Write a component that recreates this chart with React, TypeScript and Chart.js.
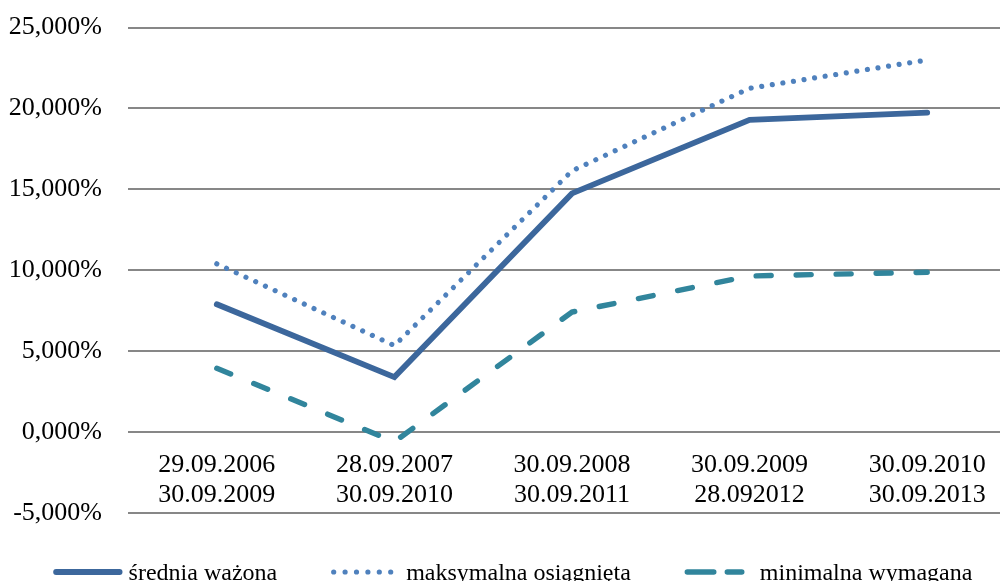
import React, { useEffect, useRef } from "react";
import { Chart, registerables } from "chart.js";

Chart.register(...registerables);

const categories: string[][] = [
  ["29.09.2006", "30.09.2009"],
  ["28.09.2007", "30.09.2010"],
  ["30.09.2008", "30.09.2011"],
  ["30.09.2009", "28.092012"],
  ["30.09.2010", "30.09.2013"],
];

const seriesNames = ["średnia ważona", "maksymalna osiągnięta", "minimalna wymagana"];

const avgValues = [7.9, 3.4, 14.75, 19.3, 19.75];
const maxValues = [10.4, 5.35, 16.15, 21.25, 23.0];
const minValues = [3.95, -0.6, 7.42, 9.65, 9.88];

const yMin = -5;
const yMax = 25;
const yStep = 5;

const FONT = '"Liberation Serif", "Times New Roman", serif';

const legendPlugin = {
  id: "customLegend",
  afterDraw(chart: any) {
    const ctx: CanvasRenderingContext2D = chart.ctx;
    const area = chart.chartArea;
    ctx.save();
    ctx.font = `24px ${FONT}`;
    const dss = chart.data.datasets;
    const widths = dss.map((d: any) => ctx.measureText(d.label).width);
    const textOffset = 75;
    const itemGap = 54;
    const total =
      widths.reduce((s: number, w: number) => s + textOffset + w, 0) + itemGap * (dss.length - 1);
    let x = chart.width / 2 - total / 2 - 2;
    const yLine = area.bottom + 59;
    const yText = area.bottom + 67;
    dss.forEach((d: any, i: number) => {
      ctx.save();
      ctx.strokeStyle = d.borderColor;
      ctx.lineWidth = d.borderWidth;
      ctx.lineCap = "round";
      ctx.setLineDash(d.legendDash || []);
      ctx.beginPath();
      ctx.moveTo(x + 2.5, yLine);
      ctx.lineTo(x + (d.legendLen || 66), yLine);
      ctx.stroke();
      ctx.restore();
      ctx.fillStyle = "#000";
      ctx.textBaseline = "alphabetic";
      ctx.textAlign = "left";
      ctx.fillText(d.label, x + textOffset, yText);
      x += textOffset + widths[i] + itemGap;
    });
    ctx.restore();
  },
};

export default function App() {
  const ref = useRef<HTMLCanvasElement | null>(null);

  useEffect(() => {
    if (!ref.current) return;
    Chart.defaults.font.family = FONT;
    Chart.defaults.font.size = 26;
    Chart.defaults.color = "#000";
    const chart = new Chart(ref.current, {
      type: "line",
      data: {
        labels: categories,
        datasets: [
          {
            label: seriesNames[0],
            data: avgValues,
            borderColor: "#3C679C",
            backgroundColor: "#3C679C",
            borderWidth: 5.8,
            borderCapStyle: "round",
            borderJoinStyle: "miter",
            pointRadius: 0,
            tension: 0,
            order: 3,
            legendLen: 66,
          } as any,
          {
            label: seriesNames[1],
            data: maxValues,
            borderColor: "#4F81BD",
            backgroundColor: "#4F81BD",
            borderWidth: 5.2,
            borderDash: [0.001, 10.7],
            borderCapStyle: "round",
            pointRadius: 0,
            tension: 0,
            order: 2,
            legendDash: [0.001, 11.4],
            legendLen: 60,
          } as any,
          {
            label: seriesNames[2],
            data: minValues,
            borderColor: "#31859C",
            backgroundColor: "#31859C",
            borderWidth: 5.4,
            borderDash: [15, 25],
            borderCapStyle: "round",
            pointRadius: 0,
            tension: 0,
            order: 1,
            legendDash: [26.5, 13.5],
            legendLen: 57,
          } as any,
        ],
      },
      options: {
        responsive: false,
        animation: false,
        layout: { padding: { left: 0, right: 14, top: 14, bottom: 87 } },
        plugins: {
          legend: { display: false },
          tooltip: { enabled: false },
        },
        scales: {
          x: {
            type: "category",
            offset: true,
            position: { y: 0 } as any,
            grid: { display: false, drawTicks: false },
            border: { display: false },
            ticks: {
              padding: 18,
              maxRotation: 0,
              autoSkip: false,
              font: { size: 26, lineHeight: 1.15 },
              color: "#000",
            },
          },
          y: {
            min: yMin,
            max: yMax,
            grid: { color: "#878787", lineWidth: 2, drawTicks: false },
            border: { display: false },
            ticks: {
              stepSize: yStep,
              padding: 26,
              font: { size: 26 },
              color: "#000",
              callback: (v: any) => Number(v).toFixed(3).replace(".", ",") + "%",
            },
            afterFit: (scale: any) => {
              scale.width = 128;
            },
          },
        },
      },
      plugins: [legendPlugin],
    });
    return () => chart.destroy();
  }, []);

  return (
    <div
      style={{
        position: "fixed",
        left: 0,
        top: 0,
        width: 1000,
        height: 581,
        overflow: "hidden",
        background: "#fff",
      }}
    >
      <canvas
        ref={ref}
        width={1030}
        height={614}
        style={{ width: 1030, height: 614, display: "block", marginTop: -14 }}
      />
    </div>
  );
}
